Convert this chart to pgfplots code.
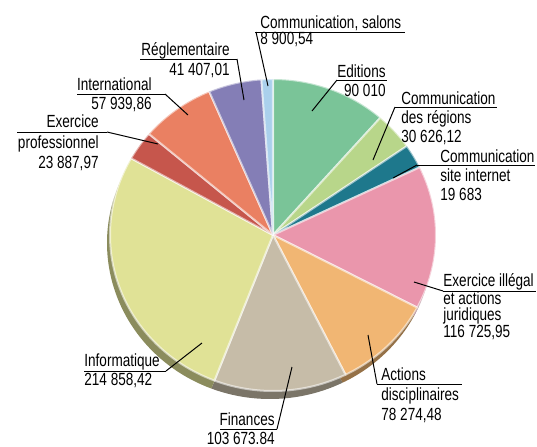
\documentclass[border=0pt]{standalone}
\usepackage{pgfplots}
\pgfplotsset{compat=1.18}
\usepackage{pgfplotstable}
\usepackage{fontspec}
\setmainfont[FakeStretch=0.77]{Liberation Sans}
\definecolor{pie0}{RGB}{122,196,152}
\definecolor{pie1}{RGB}{184,214,138}
\definecolor{pie2}{RGB}{30,120,140}
\definecolor{pie3}{RGB}{234,150,172}
\definecolor{pie4}{RGB}{241,182,115}
\definecolor{pie5}{RGB}{198,188,168}
\definecolor{pie6}{RGB}{224,226,150}
\definecolor{pie7}{RGB}{198,86,76}
\definecolor{pie8}{RGB}{234,128,98}
\definecolor{pie9}{RGB}{132,126,182}
\definecolor{pie10}{RGB}{170,208,236}
\pgfplotstableread[col sep=comma]{
name,value
Editions,90010
Communication des regions,30626.12
Communication site internet,19683
Exercice illegal,116725.95
Actions disciplinaires,78274.48
Finances,103673.84
Informatique,214858.42
Exercice professionnel,23887.97
International,57939.86
Reglementaire,41407.01
Communication salons,8900.54
}\piedata
\newcommand\lab[4]{\node[anchor=base #1,inner sep=0pt,font=\fontsize{8.8}{10}\selectfont] at (axis cs:#2,-#3) {#4};}
\newcommand\leader[4]{\draw[line width=0.5pt] (axis cs:#1,-#2) -- (axis cs:#3,-#4);}
\begin{document}
\begin{tikzpicture}
\begin{axis}[hide axis, scale only axis, width=268.5pt, height=223pt,
  xmin=0, xmax=537, ymin=-446, ymax=0, clip=false]
\xdef\tot{0}
\pgfplotsforeachungrouped \i in {0,...,10}{%
  \pgfplotstablegetelem{\i}{value}\of\piedata
  \xdef\tot{\fpeval{\tot+\pgfplotsretval}}%
}
% rim (3D edge)
\xdef\cum{0}
\pgfplotsforeachungrouped \i in {0,...,10}{%
  \pgfplotstablegetelem{\i}{value}\of\piedata
  \edef\a{\fpeval{round(90-360*\cum/\tot,4)}}%
  \edef\cumn{\fpeval{\cum+\pgfplotsretval}}%
  \edef\b{\fpeval{round(90-360*\cumn/\tot,4)}}%
  \edef\sx{\fpeval{round(270+163*cosd(\a),3)}}%
  \edef\sy{\fpeval{round(-243+156*sind(\a),3)}}%
  \edef\temp{\noexpand\fill[pie\i!62!black] (axis cs:270,-243) -- (axis cs:\sx,\sy) arc[start angle=\a, end angle=\b, x radius=81.5pt, y radius=78pt] -- cycle;}%
  \temp
  \xdef\cum{\cumn}%
}
% slices
\xdef\cum{0}
\pgfplotsforeachungrouped \i in {0,...,10}{%
  \pgfplotstablegetelem{\i}{value}\of\piedata
  \edef\a{\fpeval{round(90-360*\cum/\tot,4)}}%
  \edef\cumn{\fpeval{\cum+\pgfplotsretval}}%
  \edef\b{\fpeval{round(90-360*\cumn/\tot,4)}}%
  \edef\sx{\fpeval{round(273+163*cosd(\a),3)}}%
  \edef\sy{\fpeval{round(-235+156*sind(\a),3)}}%
  \edef\temp{\noexpand\filldraw[fill=pie\i, draw=white, draw opacity=0.55, line width=1pt, line join=round] (axis cs:273,-235) -- (axis cs:\sx,\sy) arc[start angle=\a, end angle=\b, x radius=81.5pt, y radius=78pt] -- cycle;}%
  \temp
  \xdef\cum{\cumn}%
}
% labels
\lab{west}{260}{28}{Communication, salons}
\lab{west}{260}{45}{8 900,54}
\leader{255}{32}{405}{32}
\leader{256}{32}{268}{86}
\lab{east}{230}{55}{Réglementaire}
\lab{east}{230}{75}{41 407,01}
\leader{140}{59}{237}{59}
\leader{237}{59}{244}{100}
\lab{east}{152}{90}{International}
\lab{east}{152}{110}{57 939,86}
\leader{77}{94}{165}{94}
\leader{165}{94}{188}{115}
\lab{east}{99}{127}{Exercice}
\lab{east}{99}{148}{professionnel}
\lab{east}{99}{168}{23 887,97}
\leader{17}{132}{107}{132}
\leader{107}{132}{158}{144}
\lab{east}{386}{77}{Editions}
\lab{east}{386}{96}{90 010}
\leader{337}{80}{387}{80}
\leader{337}{80}{312}{111}
\lab{west}{401}{104}{Communication}
\lab{west}{401}{123}{des régions}
\lab{west}{401}{142}{30 626,12}
\leader{395}{107}{497}{107}
\leader{395}{107}{373}{160}
\lab{west}{440}{162}{Communication}
\lab{west}{440}{181}{site internet}
\lab{west}{440}{200}{19 683}
\leader{417}{165}{535}{165}
\leader{417}{165}{393}{178}
\lab{west}{443}{286}{Exercice illégal}
\lab{west}{443}{304}{et actions}
\lab{west}{443}{320}{juridiques}
\lab{west}{443}{337}{116 725,95}
\leader{443}{291}{536}{291}
\leader{414}{282}{443}{291}
\lab{west}{381}{380}{Actions}
\lab{west}{381}{400}{disciplinaires}
\lab{west}{381}{420}{78 274,48}
\leader{377}{384}{462}{384}
\leader{368}{335}{377}{384}
\lab{east}{275}{425}{Finances}
\lab{east}{275}{444}{103 673.84}
\leader{220}{429}{277}{429}
\leader{277}{429}{292}{367}
\lab{west}{84}{366}{Informatique}
\lab{west}{84}{385}{214 858,42}
\leader{84}{371}{166}{371}
\leader{166}{371}{202}{343}
\end{axis}
\pgfresetboundingbox
\path (current axis.south west) rectangle (current axis.north east);
\end{tikzpicture}
\end{document}
